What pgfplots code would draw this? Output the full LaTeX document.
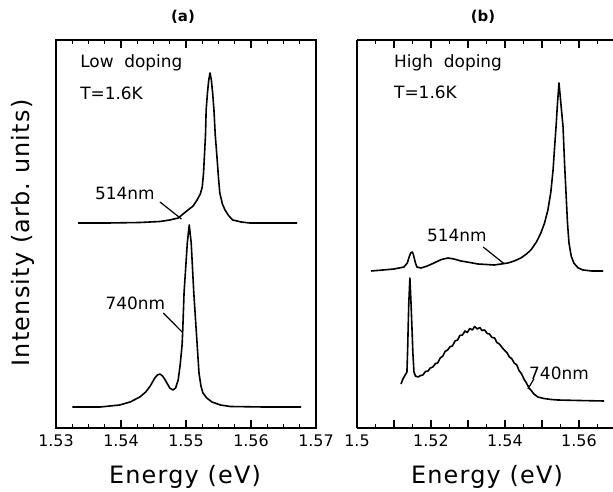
\documentclass[border=0pt]{standalone}
\usepackage{fontspec}
\setmainfont{DejaVu Sans}
\newfontfamily\widefont[LetterSpace=5]{DejaVu Sans}
\usepackage{pgfplots}
\pgfplotsset{compat=1.18}

\pgfplotsset{
  spec/.style={
    scale only axis,
    height=388bp,
    ymin=0, ymax=388,
    ymajorticks=false, yminorticks=false,
    axis line style={line width=1.4bp},
    tickwidth=8bp,
    subtickwidth=4bp,
    tick style={black, line width=1.2bp},
    /pgf/number format/assume math mode=true,
    tick label style={font=\fontsize{16}{19}\selectfont},
    xticklabel style={yshift=-3bp},
  },
  curve/.style={black, line width=1.6bp, no marks, line join=round},
}
\tikzset{
  note/.style={font=\fontsize{17}{20}\selectfont, inner sep=0pt},
  tk/.style={line width=1.2bp, black},
}
% inward tick marks on the bottom and top edges of an axis
\newcommand{\edgeticks}[2]{%
  \pgfplotsinvokeforeach{#1}{%
    \draw[tk] (axis cs:##1,0) -- ([yshift=#2]axis cs:##1,0);
    \draw[tk] (axis cs:##1,388) -- ([yshift=-#2]axis cs:##1,388);}}

\begin{document}
\begin{tikzpicture}
\useasboundingbox (0,0) rectangle (613bp,492bp);

% ---------------- (a) low doping ----------------
\begin{axis}[spec,
  at={(56bp,64bp)}, anchor=south west, width=260bp,
  xmin=1.53, xmax=1.57,
  xtick={1.53,1.54,1.55,1.56,1.57},
  xticklabels={1.53,1.54,1.55,1.56,1.57},
  minor x tick num=3]
\edgeticks{1.54,1.55,1.56}{8bp}
\edgeticks{1.5325,1.535,1.5375,1.5425,1.545,1.5475,1.5525,1.555,1.5575,1.5625,1.565,1.5675}{4bp}
% 514 nm excitation
\addplot[curve] coordinates {
 (1.5334,205) (1.5380,205) (1.5429,205.5) (1.5460,206.5) (1.5475,208)
 (1.5488,210) (1.5503,218) (1.5511,222) (1.5517,228) (1.5522,234)
 (1.5525,241) (1.5527,255) (1.5528,268) (1.5530,293) (1.5531,318)
 (1.5533,335) (1.5535,348) (1.5537,355) (1.5539,348) (1.5541,335)
 (1.5543,318) (1.5545,293) (1.5548,268) (1.5550,250) (1.5552,235)
 (1.5556,224) (1.5560,218) (1.5566,212) (1.5572,208) (1.5585,206)
 (1.5598,205) (1.5630,205) (1.5671,205)};
% 740 nm excitation
\addplot[curve] coordinates {
 (1.5325,21) (1.5368,21) (1.5398,23) (1.5414,26) (1.5429,31)
 (1.5438,36) (1.5445,42) (1.5452,50) (1.5456,53) (1.5460,54)
 (1.5464,52) (1.5468,48) (1.5475,40) (1.5480,38) (1.5484,40)
 (1.5488,48) (1.5491,63) (1.5494,83) (1.5495,98) (1.5497,135)
 (1.5500,165) (1.5502,185) (1.5505,203) (1.5508,185) (1.5510,160)
 (1.5512,135) (1.5515,105) (1.5517,85) (1.5520,55) (1.5523,42)
 (1.5526,35) (1.5532,30) (1.5540,26) (1.5553,23) (1.5568,21.5)
 (1.5620,21) (1.5677,21)};
\node[note, anchor=west] at (axis cs:1.5337,365) {Low~~doping};
\node[note, anchor=west] at (axis cs:1.5337,335) {T=1.6K};
\node[note] at (axis cs:1.5406,235) {514nm};
\draw[line width=1.2bp] (axis cs:1.5460,226) -- (axis cs:1.5493,209);
\node[note] at (axis cs:1.5422,125) {740nm};
\draw[line width=1.2bp] (axis cs:1.5465,115) -- (axis cs:1.5494,96);
\end{axis}

% ---------------- (b) high doping ----------------
\begin{axis}[spec,
  at={(357bp,64bp)}, anchor=south west, width=256bp,
  axis x line*=box, axis y line*=left,
  xmin=1.50, xmax=1.5692,
  xtick={1.50,1.51,1.52,1.53,1.54,1.55,1.56},
  xticklabels={1.5,,1.52,,1.54,,1.56},
  minor x tick num=1]
\edgeticks{1.51,1.52,1.53,1.54,1.55,1.56}{7bp}
\edgeticks{1.505,1.515,1.525,1.535,1.545,1.555,1.565}{4bp}
% 514 nm excitation
\addplot[curve] coordinates {
 (1.5038,157) (1.5070,158) (1.5100,159) (1.5127,161) (1.5136,165)
 (1.5141,171) (1.5145,175) (1.5149,176) (1.5152,174) (1.5154,171)
 (1.5158,165) (1.5162,161) (1.5173,160) (1.5190,162) (1.5208,165)
 (1.5228,168.5) (1.5246,170) (1.5262,169) (1.5281,167) (1.5305,165.5)
 (1.5327,164) (1.5350,163.5) (1.5370,163) (1.5390,164) (1.5408,165)
 (1.5425,167) (1.5443,170) (1.5458,174) (1.5470,178) (1.5485,186)
 (1.5497,195) (1.5507,205) (1.5516,218) (1.5524,236) (1.5530,258)
 (1.5534,280) (1.5538,301) (1.5542,325) (1.5546,345) (1.5551,325)
 (1.5557,301) (1.5561,265) (1.5565,235) (1.5569,205) (1.5573,185)
 (1.5579,172) (1.5586,165) (1.5598,160) (1.5611,158) (1.5635,157)
 (1.5665,157)};
% 740 nm excitation
\addplot[curve] coordinates {
 (1.5119,44) (1.5123,48) (1.5127,51) (1.5132,54) (1.5135,56)
 (1.5137,80) (1.5138,96) (1.5140,125) (1.5143,150) (1.5146,125)
 (1.5149,96) (1.5151,75) (1.5154,56) (1.5158,52) (1.5165,51)
 (1.5172,52.5) (1.5178,53) (1.5185,56.5) (1.5192,57) (1.5198,60)
 (1.5205,61) (1.5212,64.5) (1.5218,65) (1.5225,70) (1.5232,72)
 (1.5238,76.5) (1.5245,78) (1.5252,81.5) (1.5258,82) (1.5265,87)
 (1.5272,88) (1.5278,92.5) (1.5285,93) (1.5292,97) (1.5298,95.5)
 (1.5305,99.5) (1.5312,98) (1.5318,101.5) (1.5325,99) (1.5332,100.5)
 (1.5338,97.5) (1.5345,98) (1.5352,94.5) (1.5358,94) (1.5365,90.5)
 (1.5372,90) (1.5378,85.5) (1.5385,84) (1.5392,80.5) (1.5398,78)
 (1.5405,75.5) (1.5412,71) (1.5418,69.5) (1.5425,65) (1.5432,63)
 (1.5438,57.5) (1.5445,54) (1.5452,48.5) (1.5458,45) (1.5465,40)
 (1.5472,37) (1.5478,34) (1.5489,31) (1.5505,29.5) (1.5525,28.5)
 (1.5543,28) (1.5600,27.5) (1.5668,27)};
\node[note, anchor=west] at (axis cs:1.5100,365) {High~~doping};
\node[note, anchor=west] at (axis cs:1.5100,336) {T=1.6K};
\node[note] at (axis cs:1.5270,193) {514nm};
\draw[line width=1.2bp] (axis cs:1.5341,181) -- (axis cs:1.5397,164.5);
\node[note] at (axis cs:1.5546,55) {740nm};
\draw[line width=1.2bp] (axis cs:1.5478,49) -- (axis cs:1.5462,39);
\end{axis}

% panel titles and axis labels
\node[font=\bfseries\fontsize{15}{18}\selectfont] at (183bp,475bp) {(a)};
\node[font=\bfseries\fontsize{15}{18}\selectfont] at (483bp,475bp) {(b)};
\node[font=\widefont\fontsize{24}{28}\selectfont, rotate=90] at (23bp,259bp) {Intensity~(arb.~units)};
\node[font=\widefont\fontsize{24}{28}\selectfont] at (185bp,15bp) {Energy~(eV)};
\node[font=\widefont\fontsize{24}{28}\selectfont] at (487bp,15bp) {Energy~(eV)};
\end{tikzpicture}
\end{document}
